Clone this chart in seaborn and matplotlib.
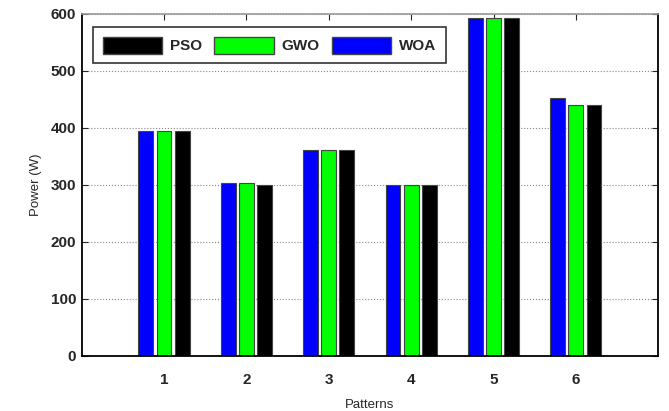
import numpy as np
import pandas as pd
import matplotlib
matplotlib.use("Agg")
import matplotlib.pyplot as plt
import seaborn as sns

patterns = ["1", "2", "3", "4", "5", "6"]
woa = [395, 303, 362, 300, 593, 452]
gwo = [395, 303, 362, 300, 593, 440]
pso = [395, 300, 362, 300, 593, 440]
methods = ["WOA", "GWO", "PSO"]
colors = {"WOA": "#0000ff", "GWO": "#00ff00", "PSO": "#000000"}

df = pd.DataFrame({
    "Pattern": patterns * 3,
    "Method": ["WOA"] * 6 + ["GWO"] * 6 + ["PSO"] * 6,
    "Power": woa + gwo + pso,
})

sns.set_style("white")
plt.rcParams["font.family"] = ["Liberation Sans", "DejaVu Sans"]

fig = plt.figure(figsize=(6.69, 4.11), dpi=100)
ax = fig.add_axes([0.122, 0.134, 0.862, 0.832])

sns.barplot(data=df, x="Pattern", y="Power", hue="Method", order=patterns,
            hue_order=methods, palette=colors, width=0.66, gap=0.18,
            saturation=1, edgecolor="#444444", linewidth=0.8, ax=ax, legend=False)

ax.set_xlim(-1, 6)
ax.set_ylim(0, 600)
ax.set_yticks(np.arange(0, 601, 100))
ax.yaxis.grid(True, linestyle=":", color="#888888", linewidth=0.8)
ax.set_axisbelow(True)

for lbl in ax.get_xticklabels() + ax.get_yticklabels():
    lbl.set_fontweight("bold")
    lbl.set_fontsize(11)
ax.tick_params(axis="y", which="both", direction="in", length=4, left=True, right=True, pad=4)
ax.tick_params(axis="x", direction="in", length=4, bottom=False, top=True, pad=12)

ax.set_xlabel("Patterns", fontsize=9.5, labelpad=9)
ax.set_ylabel("Power (W)", fontsize=9.5, labelpad=6)

for side in ["left", "bottom", "right"]:
    ax.spines[side].set_color("black")
    ax.spines[side].set_linewidth(1.3)
ax.spines["top"].set_color("#999999")
ax.spines["top"].set_linewidth(1.2)

handles = [plt.Rectangle((0, 0), 1, 1, facecolor=colors[m], edgecolor="#444444")
           for m in ["PSO", "GWO", "WOA"]]
leg = ax.legend(handles, ["PSO", "GWO", "WOA"], loc="upper left", ncol=3,
                bbox_to_anchor=(0.019, 0.962), borderaxespad=0, frameon=True,
                fancybox=False, edgecolor="black", handlelength=3.9,
                handleheight=1.3, columnspacing=0.8, handletextpad=0.5,
                borderpad=0.65, prop={"weight": "bold", "size": 11})
leg.get_frame().set_linewidth(1.2)

fig.savefig("out.png", dpi=100)
plt.close(fig)
